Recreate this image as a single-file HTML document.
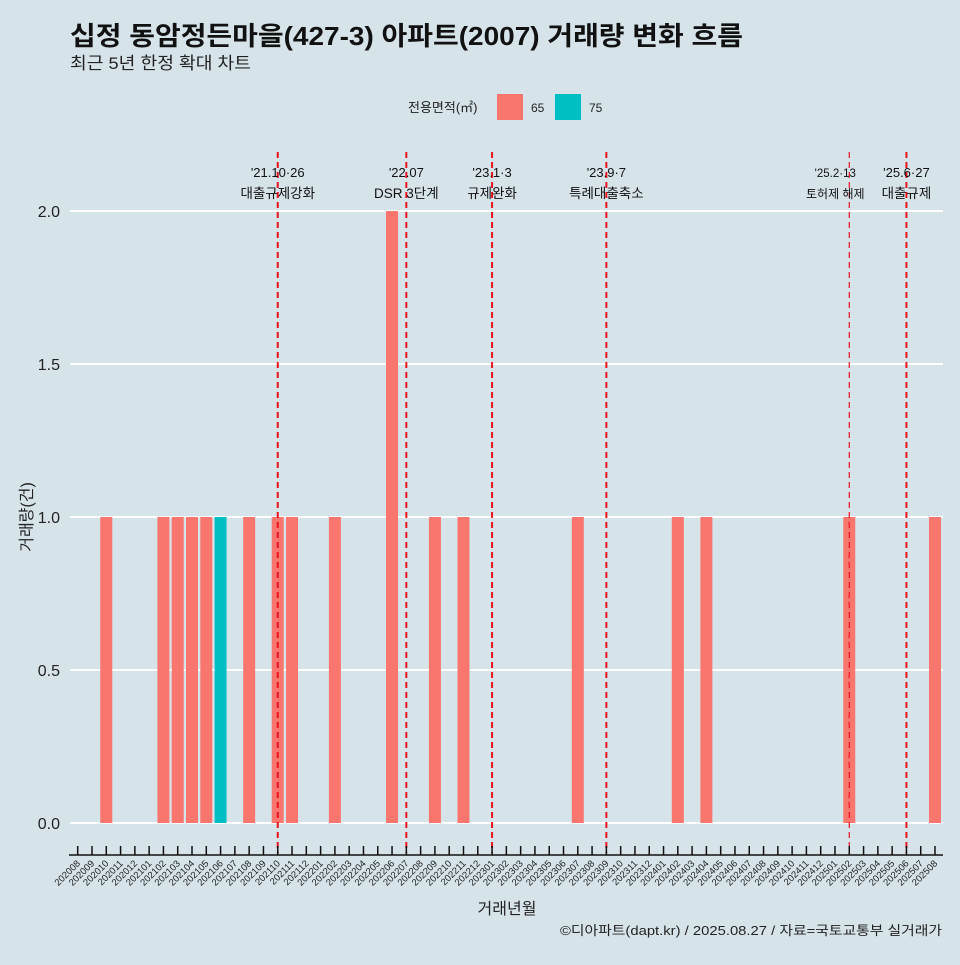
<!DOCTYPE html>
<html><head><meta charset="utf-8"><style>
body{margin:0;background:#d6e4ea;font-family:"Liberation Sans","Noto Sans CJK KR",sans-serif}
svg text{font-family:"Liberation Sans","Noto Sans CJK KR",sans-serif}
</style></head><body>
<svg id="c" width="960" height="960" viewBox="0 0 960 960" xmlns="http://www.w3.org/2000/svg">
<rect width="960" height="960" fill="#d6e4ea"/>
<text x="70" y="45" font-size="26" font-weight="bold" fill="#111" textLength="673" lengthAdjust="spacingAndGlyphs">십정 동암정든마을(427-3) 아파트(2007) 거래량 변화 흐름</text>
<text x="70" y="69" font-size="17" fill="#222" textLength="181" lengthAdjust="spacingAndGlyphs">최근 5년 한정 확대 차트</text>
<g>
<text x="408" y="112" font-size="13" fill="#222">전용면적(㎡)</text>
<rect x="497" y="94" width="26" height="26" fill="#f8766d"/>
<text x="531" y="112" font-size="12" fill="#222">65</text>
<rect x="555" y="94" width="26" height="26" fill="#00bfc4"/>
<text x="589" y="112" font-size="12" fill="#222">75</text>
</g>
<text x="560" y="935" font-size="13" fill="#222" textLength="382" lengthAdjust="spacingAndGlyphs">©디아파트(dapt.kr) / 2025.08.27 / 자료=국토교통부 실거래가</text>
<text x="507" y="914" font-size="16" fill="#222" text-anchor="middle">거래년월</text>
<text x="0" y="0" font-size="16" fill="#222" text-anchor="middle" transform="translate(32,517) rotate(-90)">거래량(건)</text>
<g id="grid"></g><g id="bars"></g><g id="events"></g><g id="axes"></g>
</svg>
<script>
const months=[];for(let y=2020;y<=2025;y++)for(let m=1;m<=12;m++){const k=y*100+m;if(k>=202008&&k<=202508)months.push(String(k));}
const series65={"202010":1,"202102":1,"202103":1,"202104":1,"202105":1,"202108":1,"202110":1,"202111":1,"202202":1,"202206":2,"202209":1,"202211":1,"202307":1,"202402":1,"202404":1,"202502":1,"202508":1};
const series75={"202106":1};
const yTicks=[0,0.5,1.0,1.5,2.0];
const eventMonths=["202110","202207","202301","202309","202502","202506"];
const eventDates=["'21.10·26","'22.07","'23.1·3","'23.9·7","'25.2·13","'25.6·27"];
const eventNames=["대출규제강화","DSR 3단계","규제완화","특례대출축소","토허제 해제","대출규제"];
const NS="http://www.w3.org/2000/svg";
function el(t,a,p){const e=document.createElementNS(NS,t);for(const k in a)e.setAttribute(k,a[k]);document.getElementById(p).appendChild(e);return e;}
const x0=77.7,step=(935-77.7)/60;
function xs(m){return x0+months.indexOf(m)*step;}
function ys(v){return 823-v*306;}
yTicks.forEach(v=>{
 const l=el('line',{x1:70,x2:943,y1:ys(v),y2:ys(v),stroke:'#fff','stroke-width':2},'grid');
 
 const t=el('text',{x:60,y:ys(v)+6,'font-size':16,fill:'#222','text-anchor':'end'},'axes');t.textContent=v.toFixed(1);
 
});
const bw=12;
for(const m in series65){const v=series65[m];const r=el('rect',{x:xs(m)-bw/2,y:ys(v),width:bw,height:ys(0)-ys(v),fill:'#f8766d'},'bars');
 }
for(const m in series75){const v=series75[m];const r=el('rect',{x:xs(m)-bw/2,y:ys(v),width:bw,height:ys(0)-ys(v),fill:'#00bfc4'},'bars');
 }
eventMonths.forEach((m,i)=>{const x=xs(m);const small=i==4;
 const l=el('line',{x1:x,x2:x,y1:152,y2:853,stroke:'#e8141e','stroke-width':small?1.2:2,'stroke-dasharray':'6,4'},'events');
 
 const fs=small?12:13.5;const dx=i==4?-14:(i==5?0:0);
 const t1=el('text',{x:x+dx,y:177,'font-size':fs-0.5,fill:'#111','text-anchor':'middle'},'events');t1.textContent=eventDates[i];
 
 const t2=el('text',{x:x+dx,y:198,'font-size':fs,fill:'#111','text-anchor':'middle'},'events');t2.textContent=eventNames[i];
 
});
const ax=el('line',{x1:69,x2:943,y1:855,y2:855,stroke:'#111','stroke-width':1.5},'axes');

months.forEach(m=>{const x=xs(m);
 const tk=el('line',{x1:x,x2:x,y1:846,y2:855,stroke:'#111','stroke-width':1.5},'axes');
 
 const t=el('text',{x:0,y:0,'font-size':9.5,fill:'#222','text-anchor':'end',transform:`translate(${x+3},${864}) rotate(-45)`},'axes');t.textContent=m;
 
});
</script>
</body></html>
